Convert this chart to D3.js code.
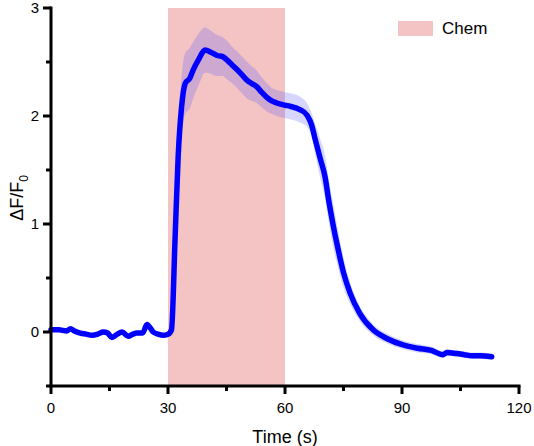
<!DOCTYPE html>
<html><head><meta charset="utf-8">
<script src="https://cdn.jsdelivr.net/npm/d3@7"></script>
<style>body{margin:0;background:#fff}svg{display:block;font-family:"Liberation Sans",Arial,sans-serif}</style>
</head><body><svg id="c" width="534" height="446"></svg>
<script>
const times = [0,2,4,5,6,7.5,9,10.5,12,13.4,14.5,15.6,17,18.2,19.8,21,22,23.5,24.6,25.4,26.2,27.5,28.7,30,30.9,31.8,32.6,33.5,34.4,35.6,36.5,37.8,39.5,41,42.6,44,45.1,46.5,47.7,49,50.3,51.5,52.8,54,55.4,56.6,57.9,60,61.3,63.8,65.6,66.8,67.7,69,70.3,71.2,72.4,73.3,75,76.7,79.2,82.6,86.1,90.3,94,97.5,100.5,101.5,104,106,108,110,113];
const meanVals = [0.02,0.02,0.01,0.03,0.01,-0.01,-0.02,-0.03,-0.02,0.0,-0.01,-0.05,-0.02,0.0,-0.04,-0.02,-0.01,-0.01,0.07,0.04,0.0,-0.02,-0.03,-0.02,0.02,0.85,1.62,2.09,2.30,2.35,2.43,2.52,2.61,2.59,2.56,2.55,2.52,2.47,2.43,2.38,2.33,2.30,2.27,2.22,2.17,2.14,2.12,2.10,2.09,2.06,2.01,1.92,1.79,1.61,1.43,1.22,0.98,0.82,0.55,0.36,0.17,0.02,-0.06,-0.12,-0.15,-0.17,-0.21,-0.19,-0.2,-0.21,-0.22,-0.22,-0.23];
const sdVals = [0.02,0.02,0.02,0.02,0.02,0.02,0.02,0.02,0.02,0.02,0.02,0.02,0.02,0.02,0.02,0.02,0.02,0.02,0.03,0.03,0.02,0.02,0.02,0.02,0.03,0.12,0.22,0.28,0.28,0.28,0.26,0.24,0.21,0.2,0.19,0.18,0.18,0.17,0.17,0.17,0.17,0.16,0.15,0.14,0.13,0.12,0.12,0.12,0.12,0.12,0.11,0.11,0.14,0.18,0.2,0.2,0.2,0.18,0.14,0.1,0.07,0.05,0.045,0.04,0.04,0.035,0.03,0.03,0.03,0.03,0.03,0.03,0.03];
const stimWindow = [30, 60];
const legendLabel = "Chem";
const xTicks = [0,30,60,90,120];
const xMinorTicks = [15,45,75,105];
const yTicks = [0,1,2,3];
const yMinorTicks = [-0.5,0.5,1.5,2.5];

const svg = d3.select("#c");
const x = d3.scaleLinear().domain([0,120]).range([51,519]);
const y = d3.scaleLinear().domain([-0.5,3]).range([386,8]);
const data = times.map((t,i)=>({t, m:meanVals[i], s:sdVals[i]}));

// stimulus
svg.append("rect").attr("x",x(stimWindow[0])).attr("y",y(3)).attr("width",x(stimWindow[1])-x(stimWindow[0])).attr("height",y(-0.5)-y(3)).attr("fill","#f4c4c4");

// band
svg.append("path").datum(data)
  .attr("d", d3.area().x(d=>x(d.t)).y0(d=>y(d.m-d.s)).y1(d=>y(d.m+d.s)).curve(d3.curveMonotoneX))
  .attr("fill","rgba(70,70,255,0.22)");
// line
svg.append("path").datum(data)
  .attr("d", d3.line().x(d=>x(d.t)).y(d=>y(d.m)).curve(d3.curveMonotoneX))
  .attr("fill","none").attr("stroke","#0000ff").attr("stroke-width",5.5).attr("stroke-linejoin","round").attr("stroke-linecap","round");

// axes
const ax = svg.append("g").attr("stroke","#000").attr("stroke-width",3);
ax.append("line").attr("x1",x(0)).attr("x2",x(0)).attr("y1",y(3)-1.5).attr("y2",y(-0.5)+1.5);
ax.append("line").attr("x1",x(0)-1.5).attr("x2",x(120)+1.5).attr("y1",y(-0.5)).attr("y2",y(-0.5));
yTicks.forEach(v=>ax.append("line").attr("x1",x(0)-8).attr("x2",x(0)).attr("y1",y(v)).attr("y2",y(v)));
yMinorTicks.forEach(v=>ax.append("line").attr("x1",x(0)-5).attr("x2",x(0)).attr("y1",y(v)).attr("y2",y(v)));
xTicks.forEach(v=>ax.append("line").attr("x1",x(v)).attr("x2",x(v)).attr("y1",y(-0.5)).attr("y2",y(-0.5)+8));
xMinorTicks.forEach(v=>ax.append("line").attr("x1",x(v)).attr("x2",x(v)).attr("y1",y(-0.5)).attr("y2",y(-0.5)+5));

yTicks.forEach(v=>svg.append("text").attr("x",39).attr("y",y(v)).attr("dy","0.35em").attr("text-anchor","end").attr("font-size",15).text(v));
xTicks.forEach(v=>svg.append("text").attr("x",x(v)).attr("y",413).attr("text-anchor","middle").attr("font-size",15).text(v));

svg.append("text").attr("x",285).attr("y",443).attr("text-anchor","middle").attr("font-size",18).text("Time (s)");
const yl = svg.append("text").attr("transform","translate(23,198) rotate(-90)").attr("text-anchor","middle").attr("font-size",18);
yl.append("tspan").text("ΔF/F");
yl.append("tspan").attr("font-size",12).attr("dy",5).text("0");

// legend
svg.append("rect").attr("x",398).attr("y",21).attr("width",35).attr("height",15).attr("fill","#f4c4c4");
svg.append("text").attr("x",442).attr("y",28).attr("dy","0.35em").attr("font-size",17).text(legendLabel);
</script></body></html>
